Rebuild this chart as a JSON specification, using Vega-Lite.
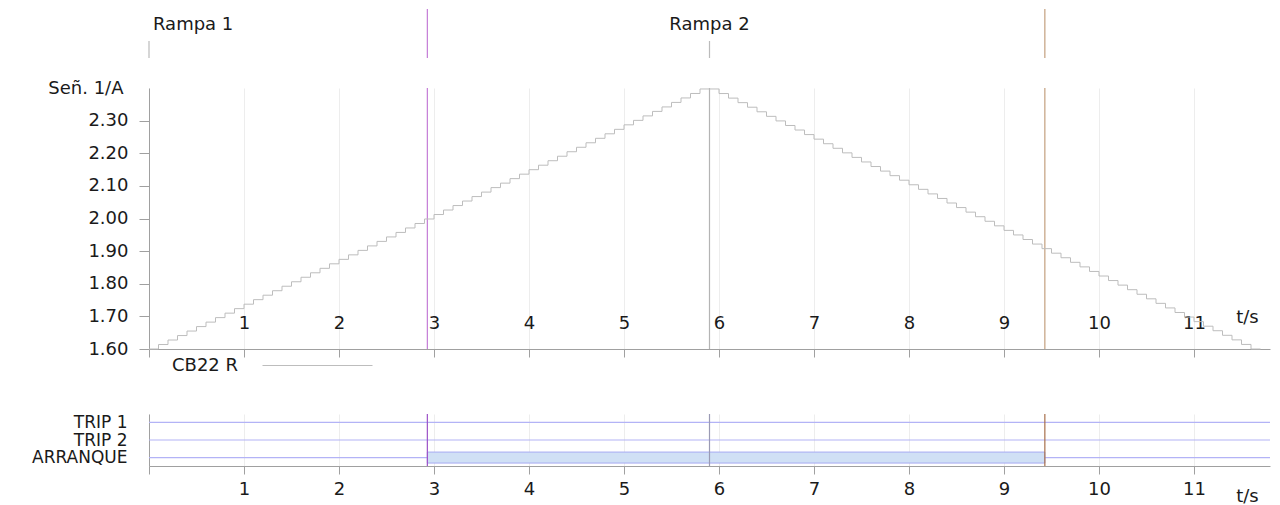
{
  "$schema": "https://vega.github.io/schema/vega-lite/v6.json",
  "background": "white",
  "padding": {"left": 0, "top": 8, "right": 0, "bottom": 0},
  "config": {"view": {"stroke": null}, "font": "DejaVu Sans"},
  "datasets": {
    "steps": [
      {"t":0.0,"v":1.6000},{"t":0.1,"v":1.6137},{"t":0.2,"v":1.6275},{"t":0.3,"v":1.6412},{"t":0.4,"v":1.6550},{"t":0.5,"v":1.6687},{"t":0.6,"v":1.6824},{"t":0.7,"v":1.6962},{"t":0.8,"v":1.7099},{"t":0.9,"v":1.7237},
      {"t":1.0,"v":1.7374},{"t":1.1,"v":1.7512},{"t":1.2,"v":1.7649},{"t":1.3,"v":1.7786},{"t":1.4,"v":1.7924},{"t":1.5,"v":1.8061},{"t":1.6,"v":1.8199},{"t":1.7,"v":1.8336},{"t":1.8,"v":1.8473},{"t":1.9,"v":1.8611},
      {"t":2.0,"v":1.8748},{"t":2.1,"v":1.8886},{"t":2.2,"v":1.9023},{"t":2.3,"v":1.9160},{"t":2.4,"v":1.9298},{"t":2.5,"v":1.9435},{"t":2.6,"v":1.9573},{"t":2.7,"v":1.9710},{"t":2.8,"v":1.9847},{"t":2.9,"v":1.9985},
      {"t":3.0,"v":2.0122},{"t":3.1,"v":2.0260},{"t":3.2,"v":2.0397},{"t":3.3,"v":2.0535},{"t":3.4,"v":2.0672},{"t":3.5,"v":2.0809},{"t":3.6,"v":2.0947},{"t":3.7,"v":2.1084},{"t":3.8,"v":2.1222},{"t":3.9,"v":2.1359},
      {"t":4.0,"v":2.1496},{"t":4.1,"v":2.1634},{"t":4.2,"v":2.1771},{"t":4.3,"v":2.1909},{"t":4.4,"v":2.2046},{"t":4.5,"v":2.2183},{"t":4.6,"v":2.2321},{"t":4.7,"v":2.2458},{"t":4.8,"v":2.2596},{"t":4.9,"v":2.2733},
      {"t":5.0,"v":2.2871},{"t":5.1,"v":2.3008},{"t":5.2,"v":2.3145},{"t":5.3,"v":2.3283},{"t":5.4,"v":2.3420},{"t":5.5,"v":2.3558},{"t":5.6,"v":2.3695},{"t":5.7,"v":2.3832},{"t":5.8,"v":2.3970},
      {"t":6.0,"v":2.3830},{"t":6.1,"v":2.3690},{"t":6.2,"v":2.3551},{"t":6.3,"v":2.3411},{"t":6.4,"v":2.3271},{"t":6.5,"v":2.3131},{"t":6.6,"v":2.2991},{"t":6.7,"v":2.2851},{"t":6.8,"v":2.2712},{"t":6.9,"v":2.2572},
      {"t":7.0,"v":2.2432},{"t":7.1,"v":2.2292},{"t":7.2,"v":2.2152},{"t":7.3,"v":2.2012},{"t":7.4,"v":2.1873},{"t":7.5,"v":2.1733},{"t":7.6,"v":2.1593},{"t":7.7,"v":2.1453},{"t":7.8,"v":2.1313},{"t":7.9,"v":2.1174},
      {"t":8.0,"v":2.1034},{"t":8.1,"v":2.0894},{"t":8.2,"v":2.0754},{"t":8.3,"v":2.0614},{"t":8.4,"v":2.0475},{"t":8.5,"v":2.0335},{"t":8.6,"v":2.0195},{"t":8.7,"v":2.0055},{"t":8.8,"v":1.9915},{"t":8.9,"v":1.9775},
      {"t":9.0,"v":1.9636},{"t":9.1,"v":1.9496},{"t":9.2,"v":1.9356},{"t":9.3,"v":1.9216},{"t":9.4,"v":1.9076},{"t":9.5,"v":1.8937},{"t":9.6,"v":1.8797},{"t":9.7,"v":1.8657},{"t":9.8,"v":1.8517},{"t":9.9,"v":1.8377},
      {"t":10.0,"v":1.8237},{"t":10.1,"v":1.8098},{"t":10.2,"v":1.7958},{"t":10.3,"v":1.7818},{"t":10.4,"v":1.7678},{"t":10.5,"v":1.7538},{"t":10.6,"v":1.7399},{"t":10.7,"v":1.7259},{"t":10.8,"v":1.7119},{"t":10.9,"v":1.6979},
      {"t":11.0,"v":1.6839},{"t":11.1,"v":1.6699},{"t":11.2,"v":1.6560},{"t":11.3,"v":1.6420},{"t":11.4,"v":1.6280},{"t":11.5,"v":1.6140},{"t":11.6,"v":1.6000},{"t":11.7,"v":1.6000}
    ],
    "events": [{"t": 2.93, "name": "ARRANQUE on"}, {"t": 9.43, "name": "ARRANQUE off"}],
    "ramps": [{"t": 0, "label": "Rampa 1"}, {"t": 5.9, "label": "Rampa 2"}],
    "signals": [{"signal": "TRIP 1"}, {"signal": "TRIP 2"}, {"signal": "ARRANQUE"}],
    "active": [{"signal": "ARRANQUE", "t0": 2.93, "t1": 9.43}]
  },
  "spacing": 20,
  "resolve": {"legend": {"color": "independent"}, "scale": {"stroke": "independent"}},
  "vconcat": [
    {
      "width": 1121,
      "height": 49,
      "layer": [
        {
          "data": {"name": "events"},
          "mark": {"type": "rule", "strokeWidth": 1.2},
          "encoding": {
            "x": {"field": "t", "type": "quantitative", "scale": {"domain": [0, 11.8], "nice": false, "zero": false}, "axis": null},
            "stroke": {"field": "name", "type": "nominal", "scale": {"domain": ["ARRANQUE on", "ARRANQUE off"], "range": ["#c47cd6", "#c3a07f"]}, "legend": null}
          }
        },
        {
          "data": {"name": "ramps"},
          "mark": {"type": "rule", "color": "#bbbbbb", "strokeWidth": 1.2},
          "encoding": {
            "x": {"field": "t", "type": "quantitative", "scale": {"domain": [0, 11.8], "nice": false, "zero": false}, "axis": null},
            "y": {"datum": 0, "type": "quantitative", "scale": {"domain": [0, 1], "nice": false, "zero": false}, "axis": {"labels": false, "ticks": false, "domain": false, "grid": false, "title": null, "minExtent": 149, "maxExtent": 149}},
            "y2": {"datum": 0.347}
          }
        },
        {
          "data": {"name": "ramps"},
          "mark": {"type": "text", "baseline": "middle", "align": {"expr": "datum.t == 0 ? 'left' : 'center'"}, "dx": {"expr": "datum.t == 0 ? 4 : 0"}, "fontSize": 18, "color": "#1a1a1a"},
          "encoding": {
            "x": {"field": "t", "type": "quantitative", "scale": {"domain": [0, 11.8], "nice": false, "zero": false}, "axis": null},
            "y": {"datum": 0.673, "type": "quantitative"},
            "text": {"field": "label"}
          }
        }
      ]
    },
    {
      "width": 1121,
      "height": 261,
      "layer": [
        {
          "data": {"name": "ramps"},
          "transform": [{"filter": "datum.t > 0"}],
          "mark": {"type": "rule", "color": "#b4b4b4", "strokeWidth": 1.2},
          "encoding": {
            "x": {"field": "t", "type": "quantitative", "scale": {"domain": [0, 11.8], "nice": false, "zero": false}}
          }
        },
        {
          "data": {"name": "events"},
          "mark": {"type": "rule", "strokeWidth": 1.2},
          "encoding": {
            "x": {"field": "t", "type": "quantitative", "scale": {"domain": [0, 11.8], "nice": false, "zero": false}},
            "stroke": {"field": "name", "type": "nominal", "scale": {"domain": ["ARRANQUE on", "ARRANQUE off"], "range": ["#c47cd6", "#c3a07f"]}, "legend": null}
          }
        },
        {
          "data": {"name": "steps"},
          "mark": {"type": "line", "interpolate": "step-after", "strokeWidth": 1},
          "encoding": {
            "x": {"field": "t", "type": "quantitative", "scale": {"domain": [0, 11.8], "nice": false, "zero": false},
              "axis": {"values": [0,1,2,3,4,5,6,7,8,9,10,11], "format": "d", "labelExpr": "datum.value == 0 ? '' : datum.label", "grid": true, "gridColor": "#ededed", "domainColor": "#a0a0a0", "tickColor": "#a0a0a0", "tickSize": 8, "labelFontSize": 18, "labelColor": "#1a1a1a", "labelPadding": -33.5, "labelBaseline": "middle", "labelFlush": false, "labelOverlap": false, "title": "t/s", "titleX": 1098, "titleY": -31.5, "titleAlign": "center", "titleBaseline": "middle", "titleFontSize": 18, "titleFontWeight": "normal", "titleColor": "#1a1a1a"}},
            "y": {"field": "v", "type": "quantitative", "scale": {"domain": [1.6, 2.4], "nice": false, "zero": false},
              "axis": {"values": [1.6,1.7,1.8,1.9,2.0,2.1,2.2,2.3], "format": ".2f", "grid": false, "tickSize": 10, "labelPadding": 11, "labelFontSize": 18, "labelColor": "#1a1a1a", "domainColor": "#a0a0a0", "tickColor": "#a0a0a0", "title": "Señ. 1/A", "titleAngle": 0, "titleX": -26, "titleY": 0, "titleAlign": "right", "titleBaseline": "middle", "titleFontSize": 18, "titleFontWeight": "normal", "titleColor": "#1a1a1a", "minExtent": 149, "maxExtent": 149}},
            "color": {"datum": "CB22 R", "type": "nominal", "scale": {"range": ["#bdbdbd"]},
              "legend": {"orient": "none", "legendX": 4, "legendY": 248, "title": null, "symbolType": "M-5,0L5,0", "symbolSize": 484, "symbolStrokeWidth": 1, "symbolOffset": 135, "labelOffset": -157, "labelFontSize": 18, "labelColor": "#1a1a1a", "padding": 18}}
          }
        }
      ]
    },
    {
      "width": 1121,
      "height": 52,
      "layer": [
        {
          "data": {"name": "signals"},
          "mark": {"type": "rule", "color": "#b3b3f6", "strokeWidth": 1.2},
          "encoding": {
            "y": {"field": "signal", "type": "nominal", "scale": {"type": "point", "domain": ["TRIP 1", "TRIP 2", "ARRANQUE"], "padding": 0.48},
              "axis": {"ticks": false, "labelPadding": 22, "labelFontSize": 17, "labelColor": "#1a1a1a", "domainColor": "#a0a0a0", "grid": false, "title": null, "labelBaseline": "middle", "minExtent": 149, "maxExtent": 149}}
          }
        },
        {
          "data": {"name": "active"},
          "mark": {"type": "bar", "height": 11, "fill": "#d0e0f5", "stroke": "#a6aaf2", "strokeWidth": 1},
          "encoding": {
            "x": {"field": "t0", "type": "quantitative", "scale": {"domain": [0, 11.8], "nice": false, "zero": false},
              "axis": {"values": [0,1,2,3,4,5,6,7,8,9,10,11], "format": "d", "labelExpr": "datum.value == 0 ? '' : datum.label", "grid": true, "gridColor": "#ededed", "domainColor": "#a0a0a0", "tickColor": "#a0a0a0", "tickSize": 8, "labelFontSize": 18, "labelColor": "#1a1a1a", "labelPadding": 15, "labelBaseline": "middle", "labelFlush": false, "labelOverlap": false, "title": "t/s", "titleX": 1098, "titleY": 30, "titleAlign": "center", "titleBaseline": "middle", "titleFontSize": 18, "titleFontWeight": "normal", "titleColor": "#1a1a1a"}},
            "x2": {"field": "t1"},
            "y": {"field": "signal", "type": "nominal", "scale": {"type": "point", "domain": ["TRIP 1", "TRIP 2", "ARRANQUE"], "padding": 0.48}}
          }
        },
        {
          "data": {"name": "ramps"},
          "transform": [{"filter": "datum.t > 0"}],
          "mark": {"type": "rule", "color": "#9a9ab4", "strokeWidth": 1.2},
          "encoding": {
            "x": {"field": "t", "type": "quantitative", "scale": {"domain": [0, 11.8], "nice": false, "zero": false}}
          }
        },
        {
          "data": {"name": "events"},
          "mark": {"type": "rule", "strokeWidth": 1.2},
          "encoding": {
            "x": {"field": "t", "type": "quantitative", "scale": {"domain": [0, 11.8], "nice": false, "zero": false}},
            "stroke": {"field": "name", "type": "nominal", "scale": {"domain": ["ARRANQUE on", "ARRANQUE off"], "range": ["#9c52c8", "#a8704c"]}, "legend": null}
          }
        }
      ]
    }
  ]
}
